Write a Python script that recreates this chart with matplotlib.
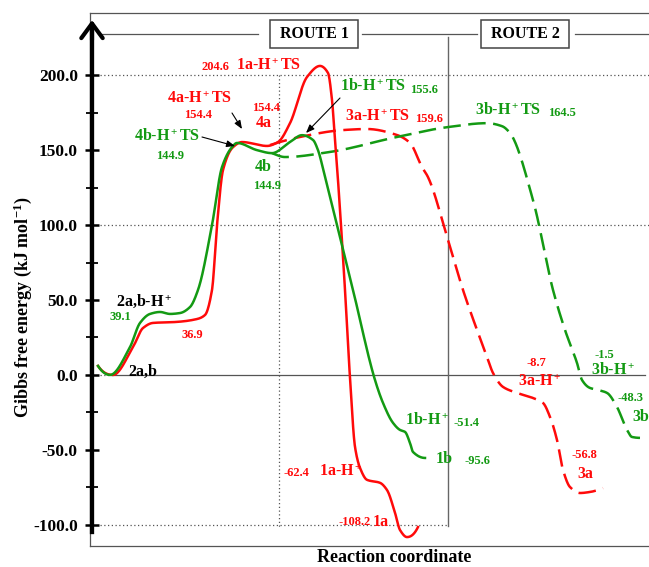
import numpy as np
import matplotlib
matplotlib.use("Agg")
import matplotlib.pyplot as plt
from matplotlib.patches import Rectangle

# ---------------- data (reaction coordinate, Gibbs free energy kJ/mol) ----------------
route1_a_x = [8, 23, 43, 53, 63, 85, 107, 115, 122, 127, 133, 143, 152, 177, 188, 200, 217,
              230, 238, 242, 245, 248, 255, 260, 265, 270, 277, 290, 297, 305, 310, 317, 328]
route1_a_E = [6.0, 0.0, 18.6, 31.3, 34.7, 35.3, 37.3, 40.0, 56.7, 100.0, 136.7, 152.0, 155.4,
              152.8, 155.4, 168.0, 198.8, 206.2, 201.5, 183.5, 156.8, 130.0, 56.7, -2.0, -48.0,
              -62.0, -70.0, -72.0, -76.8, -92.0, -103.5, -108.2, -101.5]

route1_b_x = [8, 20, 40, 50, 60, 70, 80, 90, 100, 108, 122, 132, 142, 147, 167, 182, 200, 212,
              223, 228, 235, 263, 285, 293, 303, 310, 315, 320, 323, 335]
route1_b_E = [6.0, 0.0, 18.6, 34.7, 40.7, 42.0, 40.7, 41.3, 45.3, 56.7, 100.0, 138.7, 152.0,
              154.8, 150.0, 148.0, 155.4, 160.0, 156.8, 150.0, 132.0, 56.7, -3.4, -18.7, -32.0,
              -36.7, -38.0, -45.4, -51.4, -55.4]

route2_a_x = [180, 210, 253, 277, 307, 320, 332, 338, 358, 373, 387, 397, 403, 413, 427, 443,
              453, 460, 467, 473, 480, 490, 500, 513]
route2_a_E = [153.4, 158.8, 163.4, 164.1, 160.1, 154.8, 138.7, 132.0, 90.0, 56.7, 30.0, 12.0,
              1.3, -8.0, -12.0, -15.4, -18.7, -28.0, -43.4, -63.4, -74.8, -78.8, -78.1, -75.5]

route2_b_x = [182, 195, 240, 307, 358, 397, 412, 420, 443, 463, 475, 487, 492, 500, 508, 517,
              527, 537, 542, 550]
route2_b_E = [148.0, 145.4, 148.8, 158.8, 165.4, 168.0, 166.0, 161.4, 116.7, 56.7, 30.0, 8.0,
              -3.4, -8.7, -10.0, -12.0, -21.4, -36.7, -41.4, -42.0]

yticks_major = [-100, -50, 0, 50, 100, 150, 200]
yticks_minor = [-75, -25, 25, 75, 125, 175]

RED = "#ff0a0a"
GREEN = "#139a13"

# ---------------- helpers ----------------
def pchip(x, y, n=800):
    x = np.asarray(x, float); y = np.asarray(y, float)
    h = np.diff(x); delta = np.diff(y) / h
    m = len(x)
    d = np.zeros(m)
    for k in range(1, m - 1):
        if delta[k - 1] * delta[k] > 0:
            w1 = 2 * h[k] + h[k - 1]
            w2 = h[k] + 2 * h[k - 1]
            d[k] = (w1 + w2) / (w1 / delta[k - 1] + w2 / delta[k])
    def end(h0, h1, d0, d1):
        v = ((2 * h0 + h1) * d0 - h0 * d1) / (h0 + h1)
        if np.sign(v) != np.sign(d0):
            v = 0.0
        elif np.sign(d0) != np.sign(d1) and abs(v) > abs(3 * d0):
            v = 3 * d0
        return v
    d[0] = end(h[0], h[1], delta[0], delta[1])
    d[-1] = end(h[-1], h[-2], delta[-1], delta[-2])
    xs = np.linspace(x[0], x[-1], n)
    idx = np.clip(np.searchsorted(x, xs) - 1, 0, m - 2)
    t = (xs - x[idx]) / h[idx]
    h00 = 2 * t**3 - 3 * t**2 + 1
    h10 = t**3 - 2 * t**2 + t
    h01 = -2 * t**3 + 3 * t**2
    h11 = t**3 - t**2
    ys = h00 * y[idx] + h10 * h[idx] * d[idx] + h01 * y[idx + 1] + h11 * h[idx] * d[idx + 1]
    return xs, ys

def P(px, py):
    """layout helper: figure pixel -> data coords"""
    return (px - 90, 50 + (300 - py) * 0.6673)

# ---------------- style ----------------
plt.rcParams.update({
    "font.family": ["Liberation Serif", "DejaVu Serif"],
    "font.weight": "bold",
    "mathtext.fontset": "custom",
    "mathtext.rm": "Liberation Serif:bold",
    "mathtext.it": "Liberation Serif:bold:italic",
    "mathtext.bf": "Liberation Serif:bold",
    "mathtext.default": "rm",
    "axes.unicode_minus": False,
})

fig = plt.figure(figsize=(6.49, 5.67), dpi=100)
ax = fig.add_axes([90 / 649, 21 / 567, 559 / 649, 533 / 567])
ax.set_xlim(0, 559)
ax.set_ylim(P(0, 546)[1], P(0, 13)[1])

# spines / frame
for s in ["right"]:
    ax.spines[s].set_visible(False)
for s in ["top", "bottom"]:
    ax.spines[s].set_color("#555555")
    ax.spines[s].set_linewidth(0.9)
ax.spines["left"].set_position(("data", 2))
ax.spines["left"].set_linewidth(3.1)
ax.spines["left"].set_bounds(P(0, 532)[1], P(0, 28)[1])
ax.plot([0, 0], ax.get_ylim(), color="#555555", lw=0.9, clip_on=False, zorder=1)
ax.annotate("", xy=P(92, 20), xytext=P(92, 40),
            arrowprops=dict(arrowstyle="->,head_length=0.75,head_width=0.55", lw=3.0,
                            color="black", shrinkA=0, shrinkB=0, mutation_scale=14))

ax.set_xticks([])
ax.set_yticks(yticks_major)
ax.set_yticks(yticks_minor, minor=True)
ax.set_yticklabels([f"{v:.1f}" for v in yticks_major])
ax.tick_params(axis="y", which="major", direction="inout", length=9.5, width=1.8,
               pad=5.5, labelsize=12.5)
ax.tick_params(axis="y", which="minor", direction="inout", length=8.5, width=1.3)

ax.set_ylabel("Gibbs free energy (kJ mol$^{-1}$)", fontsize=13, fontweight="bold", va="center")
ax.yaxis.set_label_coords((23 - 90) / 559, (546 - 307) / 533)
ax.set_xlabel("Reaction coordinate", fontsize=13, fontweight="bold", va="center")
ax.xaxis.set_label_coords((394 - 90) / 559, (546 - 558) / 533)

# grid-like reference lines
gx0 = P(100, 0)[0]
ax.plot([gx0, 559], [200, 200], ls=(0, (1, 2)), color="#555555", lw=0.9)
ax.plot([gx0, 559], [100, 100], ls=(0, (1, 2)), color="#555555", lw=0.9)
ax.plot([gx0, P(448, 0)[0]], [-100, -100], ls=(0, (1, 2)), color="#555555", lw=0.9)
ax.plot([gx0, P(112, 0)[0]], [0, 0], ls=(0, (1, 2)), color="#555555", lw=0.9)
ax.plot([P(112, 0)[0], P(645, 0)[0]], [0, 0], color="#555555", lw=0.9)
ax.plot([P(279, 0)[0]] * 2, [200, P(0, 527)[1]], ls=(0, (1, 2)), color="#555555", lw=0.9)
ax.plot([P(448, 0)[0]] * 2, [P(0, 37)[1], P(0, 526)[1]], color="#666666", lw=1.0)

# route header
yr = P(0, 34)[1]
for a, b in [(98, 258), (362, 477), (575, 649)]:
    ax.plot([P(a, 0)[0], P(b, 0)[0]], [yr, yr], color="#555555", lw=0.9, clip_on=False)
for x0, x1, lab in [(270, 358, "ROUTE 1"), (481, 569, "ROUTE 2")]:
    (rx0, ry0), (rx1, ry1) = P(x0, 48), P(x1, 20)
    ax.add_patch(Rectangle((rx0, ry0), rx1 - rx0, ry1 - ry0, fill=False,
                           edgecolor="#444444", lw=1.1))
    ax.text((rx0 + rx1) / 2, (ry0 + ry1) / 2, lab, ha="center", va="center",
            fontsize=11.5, fontweight="bold", color="black")

# curves
lw = 1.8
xs, ys = pchip(route1_a_x, route1_a_E); ax.plot(xs, ys, color=RED, lw=lw, zorder=5)
xs, ys = pchip(route1_b_x, route1_b_E); ax.plot(xs, ys, color=GREEN, lw=lw, zorder=5)
xs, ys = pchip(route2_a_x, route2_a_E); ax.plot(xs, ys, color=RED, lw=lw, ls=(0, (7, 3)), zorder=4)
xs, ys = pchip(route2_b_x, route2_b_E); ax.plot(xs, ys, color=GREEN, lw=lw, ls=(0, (7, 3)), zorder=4)

# labels
BIG, SMALL = 11.5, 9
labels = [
    ("204.6", 215, 67, RED, SMALL), ("1a-H$^+$TS", 269, 66, RED, BIG),
    ("4a-H$^+$TS", 200, 99, RED, BIG), ("154.4", 198, 115, RED, SMALL),
    ("154.4", 266, 108, RED, SMALL), ("4a", 264, 123, RED, BIG),
    ("3a-H$^+$TS", 378, 117, RED, BIG), ("159.6", 429, 119, RED, SMALL),
    ("36.9", 192, 335, RED, SMALL), ("-62.4", 296, 473, RED, SMALL),
    ("1a-H$^+$", 341, 472, RED, BIG), ("-108.2", 355, 522, RED, SMALL),
    ("1a", 381, 522, RED, BIG), ("-8.7", 536, 363, RED, SMALL),
    ("3a-H$^+$", 540, 382, RED, BIG), ("-56.8", 584, 455, RED, SMALL),
    ("3a", 585, 474, RED, BIG),
    ("39.1", 120, 317, GREEN, SMALL), ("4b-H$^+$TS", 167, 137, GREEN, BIG),
    ("144.9", 170, 156, GREEN, SMALL), ("4b", 263, 167, GREEN, BIG),
    ("144.9", 267, 186, GREEN, SMALL), ("1b-H$^+$TS", 373, 87, GREEN, BIG),
    ("155.6", 424, 90, GREEN, SMALL), ("3b-H$^+$TS", 508, 111, GREEN, BIG),
    ("164.5", 562, 113, GREEN, SMALL), ("1b-H$^+$", 427, 421, GREEN, BIG),
    ("-51.4", 467, 423, GREEN, SMALL), ("1b", 444, 459, GREEN, BIG),
    ("-95.6", 477, 461, GREEN, SMALL), ("-1.5", 604, 355, GREEN, SMALL),
    ("3b-H$^+$", 613, 371, GREEN, BIG), ("-48.3", 631, 398, GREEN, SMALL),
    ("3b", 641, 417, GREEN, BIG),
    ("2a,b-H$^+$", 144, 301, "black", BIG), ("2a,b", 143, 372, "black", BIG),
]
for s, px, py, c, fs in labels:
    ax.text(*P(px, py), s, color=c, fontsize=fs, fontweight="bold", ha="center",
            va="center", zorder=6, clip_on=False)

# pointer arrows
for (x0, y0), (x1, y1) in [((232, 113), (242, 129)), ((202, 137), (235, 146)),
                           ((340, 98), (306, 133))]:
    ax.annotate("", xy=P(x1, y1), xytext=P(x0, y0),
                arrowprops=dict(arrowstyle="-|>,head_length=0.5,head_width=0.2", lw=0.8,
                                color="black", shrinkA=0, shrinkB=0, mutation_scale=10),
                zorder=7)

fig.savefig("out.png", dpi=100)
